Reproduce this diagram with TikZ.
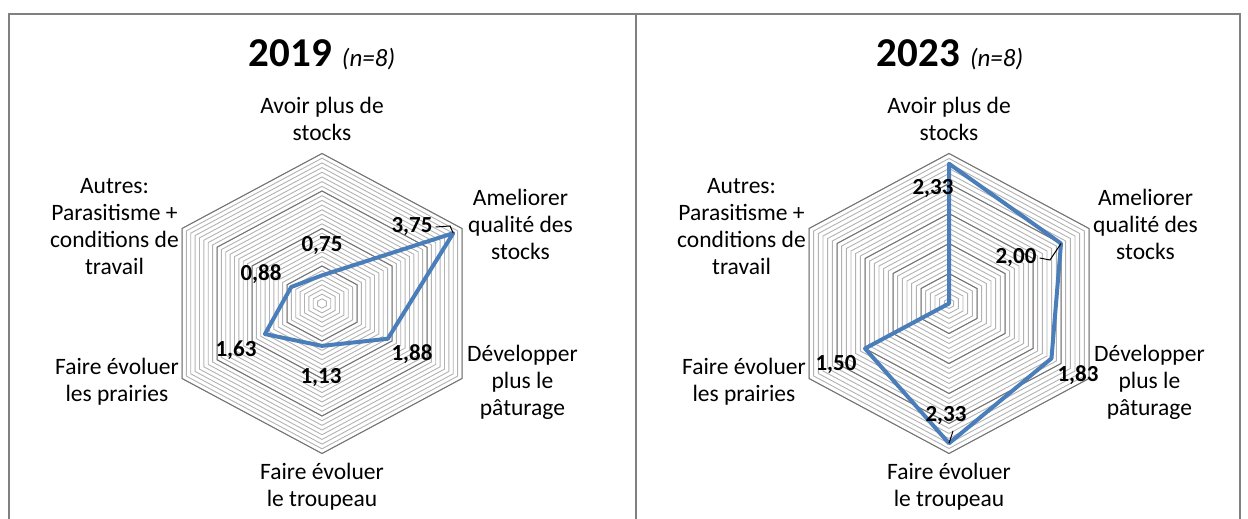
\documentclass[tikz,border=0pt]{standalone}
\usepackage{fontspec}
\setmainfont{Carlito}
\usetikzlibrary{positioning}
\definecolor{serieblue}{RGB}{74,126,187}

\begin{document}
\begin{tikzpicture}[x=1pt,y=1pt,
    frame/.style={draw=black!50,line width=2.2pt},
    ring/.style={draw=black!30,line width=0.9pt},
    major/.style={draw=black!55,line width=1pt},
    serie/.style={draw=serieblue,line width=4pt,line join=round},
    cat/.style={align=center,font=\fontsize{23.5}{27}\selectfont,inner sep=0pt},
    val/.style={font=\fontsize{23}{26}\selectfont\bfseries,inner sep=0pt},
    ttl/.style={font=\fontsize{41}{44}\selectfont\bfseries,inner sep=1pt},
    leader/.style={draw=black,line width=1pt}]
      \useasboundingbox (0,0) rectangle (1248,519);

      %%%%%%%%%%%%%%%%%%%%%%%%%%%%%%%%%%%%%%%%%%%%%%%%%%%%%%%%%%%%%%%%%%%%%%%%%%%
      %%%%  Frame
      \draw[frame] (9,0) -- (9,505) -- (1240,505) -- (1240,0);
      \draw[frame] (636,505) -- (636,0);

      %%%%%%%%%%%%%%%%%%%%%%%%%%%%%%%%%%%%%%%%%%%%%%%%%%%%%%%%%%%%%%%%%%%%%%%%%%%
      %%%%  2019
      \node[ttl] (t2019) at (322,464)
        {2019\hspace{10pt}{\fontsize{25}{28}\selectfont\mdseries\itshape (n=8)}};

      \begin{scope}[shift={(322,215.5)},xscale=1.0777]
        \foreach \i in {1,...,32}
        {\pgfmathsetmacro\r{150*\i/32}
         \draw[ring] (90:\r) -- (30:\r) -- (-30:\r) -- (-90:\r) -- (-150:\r) -- (150:\r) -- cycle;
        };
        \foreach \i in {8,16,24,32}
        {\pgfmathsetmacro\r{150*\i/32}
         \draw[major] (90:\r) -- (30:\r) -- (-30:\r) -- (-90:\r) -- (-150:\r) -- (150:\r) -- cycle;
        };
        % valeurs sur 4
        \foreach \v [count=\k] in {0.75,3.75,1.88,1.13,1.63,0.88}
        {\coordinate (a\k) at ({90-60*(\k-1)}:{150*\v/4});};
      \end{scope}
      \draw[serie] (a1) -- (a2) -- (a3) -- (a4) -- (a5) -- (a6) -- cycle;

      \node[cat] (c11) at (322,400) {Avoir plus de\\stocks};
      \node[cat,anchor=west] (c12) at (468,295) {Ameliorer\\qualité des\\stocks};
      \node[cat,anchor=west] (c13) at (467,137) {Développer\\plus le\\pâturage};
      \node[cat] (c14) at (322,32) {Faire évoluer\\le troupeau};
      \node[cat,anchor=east] (c15) at (179,137) {Faire évoluer\\les prairies};
      \node[cat,anchor=east] (c16) at (179,292) {Autres:\\Parasitisme +\\conditions de\\travail};

      \node[val] (v11) at (322,273) {0,75};
      \node[val] (v12) at (412,292) {3,75};
      \node[val] (v13) at (412,165) {1,88};
      \node[val] (v14) at (321,141) {1,13};
      \node[val] (v15) at (236,169) {1,63};
      \node[val] (v16) at (261,245) {0,88};
      \coordinate (k12) at (450,293);
      \draw[leader] ([xshift=3pt]v12.east) -- (k12) -- (a2);

      %%%%%%%%%%%%%%%%%%%%%%%%%%%%%%%%%%%%%%%%%%%%%%%%%%%%%%%%%%%%%%%%%%%%%%%%%%%
      %%%%  2023
      \node[ttl] (t2023) at (950,464)
        {2023\hspace{10pt}{\fontsize{25}{28}\selectfont\mdseries\itshape (n=8)}};

      \begin{scope}[shift={(949,215.5)},xscale=1.0777]
        \foreach \i in {1,...,30}
        {\pgfmathsetmacro\r{150*\i/30}
         \draw[ring] (90:\r) -- (30:\r) -- (-30:\r) -- (-90:\r) -- (-150:\r) -- (150:\r) -- cycle;
        };
        \foreach \i in {6,12,18,24,30}
        {\pgfmathsetmacro\r{150*\i/30}
         \draw[major] (90:\r) -- (30:\r) -- (-30:\r) -- (-90:\r) -- (-150:\r) -- (150:\r) -- cycle;
        };
        % valeurs sur 2,5
        \foreach \v [count=\k] in {2.33,2.00,1.83,2.33,1.50,0}
        {\coordinate (b\k) at ({90-60*(\k-1)}:{150*\v/2.5});};
      \end{scope}
      \draw[serie] (b1) -- (b2) -- (b3) -- (b4) -- (b5) -- (b6) -- cycle;

      \node[cat] (c21) at (949,400) {Avoir plus de\\stocks};
      \node[cat,anchor=west] (c22) at (1093,295) {Ameliorer\\qualité des\\stocks};
      \node[cat,anchor=west] (c23) at (1094,137) {Développer\\plus le\\pâturage};
      \node[cat] (c24) at (949,32) {Faire évoluer\\le troupeau};
      \node[cat,anchor=east] (c25) at (806,137) {Faire évoluer\\les prairies};
      \node[cat,anchor=east] (c26) at (806,292) {Autres:\\Parasitisme +\\conditions de\\travail};

      \node[val] (w21) at (933,330) {2,33};
      \node[val] (w22) at (1016,261) {2,00};
      \node[val] (w23) at (1078,144) {1,83};
      \node[val] (w24) at (946,103) {2,33};
      \node[val] (w25) at (836,154) {1,50};
      \coordinate (k22) at (1050,259);
      \coordinate (k24) at (953,88);
      \draw[leader] ([xshift=3pt]w22.east) -- (k22) -- (b2);
      \draw[leader] (k24) -- (b4);
    \end{tikzpicture}
\end{document}
